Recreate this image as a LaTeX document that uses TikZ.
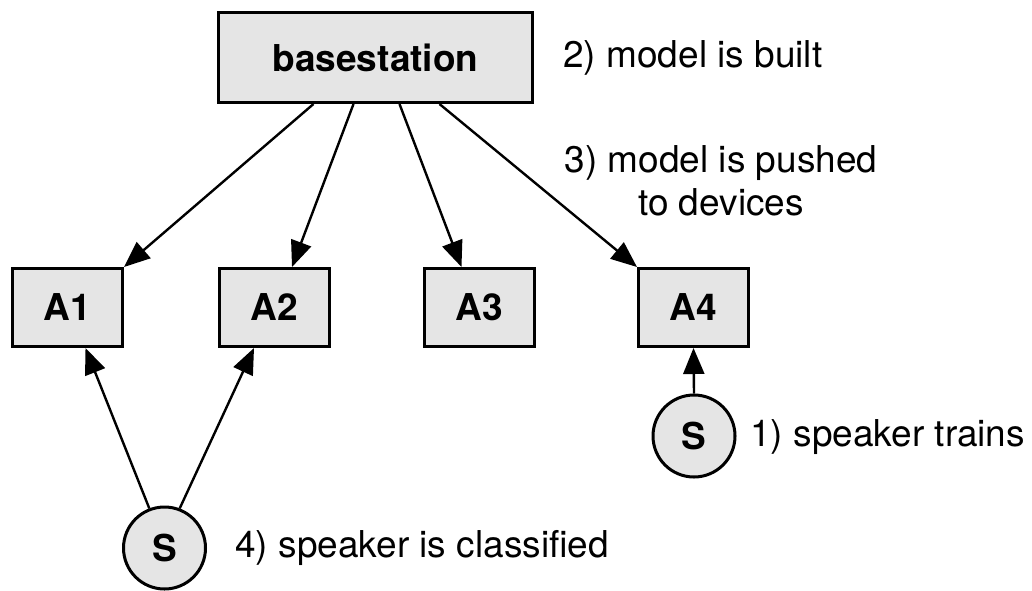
\documentclass[tikz,border=0pt]{standalone}
\usepackage{fontspec}
\setmainfont{TeX Gyre Heros}
\usetikzlibrary{arrows.meta}

\begin{document}
\begin{tikzpicture}[x=0.5pt, y=-0.5pt,
  every node/.style={font=\fontsize{18.5}{21.5}\selectfont},
  box/.style={draw, line width=1.5pt, fill=gray!20, inner sep=0pt,
    font=\fontsize{18.5}{21.5}\selectfont\bfseries},
  spk/.style={circle, draw, line width=1.5pt, fill=gray!20, inner sep=0pt,
    minimum size=41pt, font=\fontsize{18.5}{21.5}\selectfont\bfseries},
  lbl/.style={inner sep=0pt},
  arr/.style={-{Triangle[length=13pt,width=10.5pt]}, line width=1.2pt}]
  \useasboundingbox (0,0) rectangle (1032,590);

  % base station and devices
  \node[box, minimum width=157pt, minimum height=45pt] (bs) at (375.5,57.5) {basestation};
  \node[box, minimum width=55pt, minimum height=39pt] (A1) at (67.5,307.5) {A1};
  \node[box, minimum width=55pt, minimum height=39pt] (A2) at (274,307.5) {A2};
  \node[box, minimum width=55pt, minimum height=39pt] (A3) at (479.5,307.5) {A3};
  \node[box, minimum width=55pt, minimum height=39pt] (A4) at (693.5,307.5) {A4};

  % speakers
  \node[spk] (st) at (694,436) {S};
  \node[spk] (sc) at (164.5,548) {S};

  % model pushed
  \draw[arr] ([xshift=-31pt]bs.south) -- (A1.north east);
  \draw[arr] ([xshift=-11pt]bs.south) -- ([xshift=9pt]A2.north);
  \draw[arr] ([xshift=12pt]bs.south) -- ([xshift=-9pt]A3.north);
  \draw[arr] ([xshift=32pt]bs.south) -- (A4.north west);

  % training and classification
  \draw[arr] (st.north) -- (A4.south);
  \draw[arr] (sc.111) -- ([xshift=9pt]A1.south);
  \draw[arr] (sc.69) -- ([xshift=-10pt]A2.south);

  % steps
  \node[lbl, anchor=west] (l2) at (563,58) {2) model is built};
  \node[lbl, align=center] (l3) at (721,181) {3) model is pushed\\to devices};
  \node[lbl, anchor=west] (l1) at (750,437) {1) speaker trains};
  \node[lbl, anchor=west] (l4) at (235,548) {4) speaker is classified};
\end{tikzpicture}
\end{document}
